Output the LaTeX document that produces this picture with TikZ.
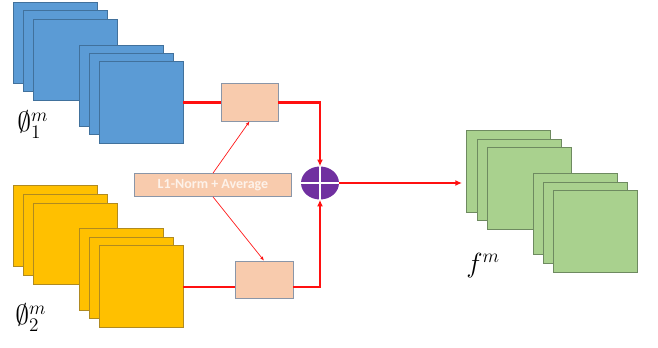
\documentclass[tikz,border=0pt]{standalone}
\usepackage{fontspec}
\usepackage{amssymb}
\newfontfamily\carl{Carlito}
\usetikzlibrary{shapes.geometric,arrows.meta,calc}
\definecolor{bfill}{HTML}{5B9BD5}
\definecolor{bdraw}{HTML}{41719C}
\definecolor{yfill}{HTML}{FFC000}
\definecolor{ydraw}{HTML}{B08A20}
\definecolor{gfill}{HTML}{A9D18E}
\definecolor{gdraw}{HTML}{6E8A60}
\definecolor{pfill}{HTML}{F8CBAD}
\definecolor{pdraw}{HTML}{8A96A8}
\definecolor{purp}{HTML}{7030A0}
\definecolor{redl}{HTML}{FF1010}
\definecolor{ltxt}{HTML}{FDF2EA}
\begin{document}
\begin{tikzpicture}[x=0.75pt,y=-0.75pt,
  sq/.style={rectangle,inner sep=0pt,minimum width=63pt,minimum height=61pt,line width=0.6pt},
  bsq/.style={sq,fill=bfill,draw=bdraw},
  ysq/.style={sq,fill=yfill,draw=ydraw},
  gsq/.style={sq,fill=gfill,draw=gdraw},
  pbox/.style={rectangle,inner sep=0pt,fill=pfill,draw=pdraw,line width=0.6pt},
  thick red/.style={draw=redl,line width=1.6pt},
  thin red/.style={draw=redl,line width=0.5pt,-{Latex[length=3pt,width=2.5pt]}},
  lbl/.style={inner sep=0pt,font=\fontsize{20}{22}\selectfont}
]
\useasboundingbox (0,0) rectangle (658,347);
% blue stack
\node[bsq] (b1) at (55,43) {};
\node[bsq] (b2) at (65,51) {};
\node[bsq] (b3) at (75,60) {};
\node[bsq] (b4) at (121,86) {};
\node[bsq] (b5) at (131,94) {};
\node[bsq] (b6) at (141,102.5) {};
% yellow stack
\node[ysq] (y1) at (55,226) {};
\node[ysq] (y2) at (65,235) {};
\node[ysq] (y3) at (75,244) {};
\node[ysq] (y4) at (121,269.5) {};
\node[ysq] (y5) at (131,278) {};
\node[ysq] (y6) at (141,286.5) {};
% green stack
\node[gsq] (g1) at (508.5,171.5) {};
\node[gsq] (g2) at (519,180) {};
\node[gsq] (g3) at (529,188.5) {};
\node[gsq] (g4) at (575,214) {};
\node[gsq] (g5) at (585,223) {};
\node[gsq] (g6) at (595,231.5) {};
% boxes
\node[pbox,minimum width=42.75pt,minimum height=28.5pt] (box1) at (249.5,102) {};
\node[pbox,minimum width=43.5pt,minimum height=27.75pt] (box2) at (264,279.5) {};
\node[pbox,minimum width=117.75pt,minimum height=17.25pt,font=\carl\bfseries\fontsize{10.5}{11}\selectfont,text=ltxt] (l1) at (213,185) {L1-Norm + Average};
% plus
\node[ellipse,fill=purp,inner sep=0pt,minimum width=28.5pt,minimum height=24.75pt] (plus) at (320,183) {};
\draw[white,line width=0.8pt] (plus.north) -- (plus.south) (plus.west) -- (plus.east);
% thick red connectors
\draw[thick red] (b6.east) -- (b6.east -| box1.west);
\draw[thick red,-{Latex[length=5pt,width=4.5pt]}] (b6.east -| box1.east) -| (plus.north);
\draw[thick red] ($(y6.east)+(0,0.5)$) -- ($(y6.east -| box2.west)+(0,0.5)$);
\draw[thick red,-{Latex[length=5pt,width=4.5pt]}] ($(y6.east -| box2.east)+(0,0.5)$) -| (plus.south);
\coordinate (outp) at (462,183);
\draw[thick red,-{Latex[length=5pt,width=4.5pt]}] (plus.east) -- (outp);
% thin red arrows
\draw[thin red] (l1.north) -- (box1.south);
\draw[thin red] (l1.south) -- (box2.north);
% labels
\node[lbl,anchor=west] (lab1) at (17,125) {$\emptyset_{1}^{m}$};
\node[lbl,anchor=west] (lab2) at (15,318) {$\emptyset_{2}^{m}$};
\node[lbl,anchor=west] (lab3) at (466,266) {$f^{m}$};
\end{tikzpicture}
\end{document}
